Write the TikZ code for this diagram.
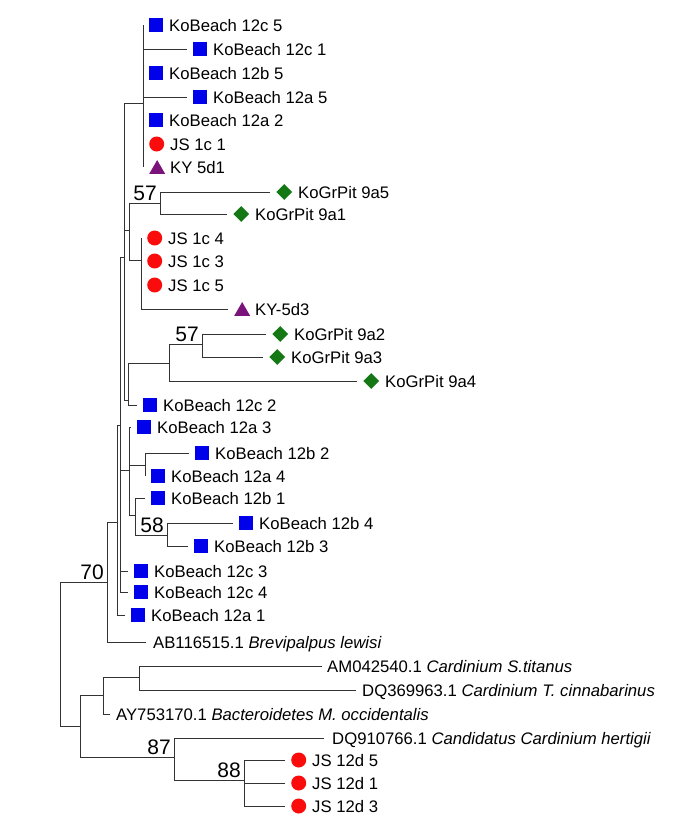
\documentclass[tikz,border=0pt]{standalone}
\usepackage{fontspec}
\setmainfont{Liberation Sans}
\usetikzlibrary{positioning, shapes.geometric}

\definecolor{sqblue}{RGB}{0,0,235}
\definecolor{dotred}{RGB}{250,12,12}
\definecolor{diagreen}{RGB}{20,120,20}
\definecolor{tripurple}{RGB}{122,20,122}

\tikzset{
  branch/.style={draw=black!80, line width=0.9pt},
  sq/.style={rectangle, fill=sqblue, minimum size=14pt, inner sep=0pt},
  dot/.style={circle, fill=dotred, minimum size=15pt, inner sep=0pt},
  dia/.style={diamond, fill=diagreen, minimum size=16pt, inner sep=0pt},
  tri/.style={regular polygon, regular polygon sides=3, fill=tripurple,
    minimum size=18.5pt, inner sep=0pt, xshift=2.6pt, yshift=-2.3pt},
  taxon/.style={inner sep=0pt, text height=12pt, text depth=0pt,
    font=\fontsize{16.7}{20}\selectfont},
  boot/.style={inner sep=0pt, anchor=south east, xshift=-3pt, yshift=2pt,
    font=\fontsize{21}{24}\selectfont}
}

\begin{document}
\begin{tikzpicture}[x=1pt, y=-1pt]
\useasboundingbox (0,0) rectangle (685,833);

% inner nodes
\coordinate (nR) at (60,582);
\coordinate (n70) at (107,582);
\coordinate (nA1) at (117,522);
\coordinate (nN4) at (120,425);
\coordinate (nN2) at (124,257);
\coordinate (nT) at (143,103);
\coordinate (nN1) at (129,230);
\coordinate (n57a) at (160,203);
\coordinate (nJ) at (141,260);
\coordinate (nN3) at (128,400);
\coordinate (nN8) at (169,363);
\coordinate (n57b) at (202,344);
\coordinate (nN5) at (129,470);
\coordinate (nN6) at (145,465);
\coordinate (nN7) at (135,515);
\coordinate (n58) at (167,535);
\coordinate (nB) at (80,726);
\coordinate (nC) at (103,695);
\coordinate (nE) at (139,677);
\coordinate (n87) at (174,757);
\coordinate (n88) at (244,780);

% bootstrap values
\node[boot] (b70) at (n70) {70};
\node[boot] (b57a) at (n57a) {57};
\node[boot] (b57b) at (n57b) {57};
\node[boot] (b58) at (n58) {58};
\node[boot] (b87) at (n87) {87};
\node[boot] (b88) at (n88) {88};

% leaves
\coordinate (kb12c5) at (143,25);
\node[sq, right=6pt of kb12c5] (m-kb12c5) {};
\node[taxon, right=26pt of kb12c5] (t-kb12c5) {KoBeach 12c 5};
\coordinate (kb12c1) at (187,49);
\node[sq, right=6pt of kb12c1] (m-kb12c1) {};
\node[taxon, right=26pt of kb12c1] (t-kb12c1) {KoBeach 12c 1};
\coordinate (kb12b5) at (143,73);
\node[sq, right=6pt of kb12b5] (m-kb12b5) {};
\node[taxon, right=26pt of kb12b5] (t-kb12b5) {KoBeach 12b 5};
\coordinate (kb12a5) at (187,97);
\node[sq, right=6pt of kb12a5] (m-kb12a5) {};
\node[taxon, right=26pt of kb12a5] (t-kb12a5) {KoBeach 12a 5};
\coordinate (kb12a2) at (143,120);
\node[sq, right=6pt of kb12a2] (m-kb12a2) {};
\node[taxon, right=26pt of kb12a2] (t-kb12a2) {KoBeach 12a 2};
\coordinate (js1c1) at (143,144);
\node[dot, right=6pt of js1c1] (m-js1c1) {};
\node[taxon, right=27pt of js1c1] (t-js1c1) {JS 1c 1};
\coordinate (ky5d1) at (143,167);
\node[tri, right=6pt of ky5d1] (m-ky5d1) {};
\node[taxon, right=27pt of ky5d1] (t-ky5d1) {KY 5d1};

\coordinate (kg9a5) at (270,192);
\node[dia, right=6pt of kg9a5] (m-kg9a5) {};
\node[taxon, right=28pt of kg9a5] (t-kg9a5) {KoGrPit 9a5};
\coordinate (kg9a1) at (227,214);
\node[dia, right=6pt of kg9a1] (m-kg9a1) {};
\node[taxon, right=28pt of kg9a1] (t-kg9a1) {KoGrPit 9a1};

\coordinate (js1c4) at (141,238);
\node[dot, right=6pt of js1c4] (m-js1c4) {};
\node[taxon, right=27pt of js1c4] (t-js1c4) {JS 1c 4};
\coordinate (js1c3) at (141,261);
\node[dot, right=6pt of js1c3] (m-js1c3) {};
\node[taxon, right=27pt of js1c3] (t-js1c3) {JS 1c 3};
\coordinate (js1c5) at (141,285);
\node[dot, right=6pt of js1c5] (m-js1c5) {};
\node[taxon, right=27pt of js1c5] (t-js1c5) {JS 1c 5};
\coordinate (ky5d3) at (228,309);
\node[tri, right=6pt of ky5d3] (m-ky5d3) {};
\node[taxon, right=27pt of ky5d3] (t-ky5d3) {KY-5d3};

\coordinate (kg9a2) at (266,334);
\node[dia, right=6pt of kg9a2] (m-kg9a2) {};
\node[taxon, right=28pt of kg9a2] (t-kg9a2) {KoGrPit 9a2};
\coordinate (kg9a3) at (263,357);
\node[dia, right=6pt of kg9a3] (m-kg9a3) {};
\node[taxon, right=28pt of kg9a3] (t-kg9a3) {KoGrPit 9a3};
\coordinate (kg9a4) at (357,381);
\node[dia, right=6pt of kg9a4] (m-kg9a4) {};
\node[taxon, right=28pt of kg9a4] (t-kg9a4) {KoGrPit 9a4};

\coordinate (kb12c2) at (137,405);
\node[sq, right=6pt of kb12c2] (m-kb12c2) {};
\node[taxon, right=26pt of kb12c2] (t-kb12c2) {KoBeach 12c 2};
\coordinate (kb12a3) at (131,427);
\node[sq, right=6pt of kb12a3] (m-kb12a3) {};
\node[taxon, right=26pt of kb12a3] (t-kb12a3) {KoBeach 12a 3};
\coordinate (kb12b2) at (189,453);
\node[sq, right=6pt of kb12b2] (m-kb12b2) {};
\node[taxon, right=26pt of kb12b2] (t-kb12b2) {KoBeach 12b 2};
\coordinate (kb12a4) at (145,476);
\node[sq, right=6pt of kb12a4] (m-kb12a4) {};
\node[taxon, right=26pt of kb12a4] (t-kb12a4) {KoBeach 12a 4};
\coordinate (kb12b1) at (145,498);
\node[sq, right=6pt of kb12b1] (m-kb12b1) {};
\node[taxon, right=26pt of kb12b1] (t-kb12b1) {KoBeach 12b 1};
\coordinate (kb12b4) at (233,523);
\node[sq, right=6pt of kb12b4] (m-kb12b4) {};
\node[taxon, right=26pt of kb12b4] (t-kb12b4) {KoBeach 12b 4};
\coordinate (kb12b3) at (188,546);
\node[sq, right=6pt of kb12b3] (m-kb12b3) {};
\node[taxon, right=26pt of kb12b3] (t-kb12b3) {KoBeach 12b 3};
\coordinate (kb12c3) at (128,571);
\node[sq, right=6pt of kb12c3] (m-kb12c3) {};
\node[taxon, right=26pt of kb12c3] (t-kb12c3) {KoBeach 12c 3};
\coordinate (kb12c4) at (128,592);
\node[sq, right=6pt of kb12c4] (m-kb12c4) {};
\node[taxon, right=26pt of kb12c4] (t-kb12c4) {KoBeach 12c 4};
\coordinate (kb12a1) at (125,615);
\node[sq, right=6pt of kb12a1] (m-kb12a1) {};
\node[taxon, right=26pt of kb12a1] (t-kb12a1) {KoBeach 12a 1};

\coordinate (ab116) at (146,642);
\node[taxon, right=7pt of ab116] (t-ab116) {AB116515.1 \textit{Brevipalpus lewisi}};
\coordinate (am042) at (322,666);
\node[taxon, right=5pt of am042] (t-am042) {AM042540.1 \textit{Cardinium S.titanus}};
\coordinate (dq369) at (356,690);
\node[taxon, right=6pt of dq369] (t-dq369) {DQ369963.1 \textit{Cardinium T. cinnabarinus}};
\coordinate (ay753) at (110,714);
\node[taxon, right=6pt of ay753] (t-ay753) {AY753170.1 \textit{Bacteroidetes M. occidentalis}};
\coordinate (dq910) at (324,738);
\node[taxon, right=8pt of dq910] (t-dq910) {DQ910766.1 \textit{Candidatus Cardinium hertigii}};

\coordinate (js12d5) at (285,760);
\node[dot, right=6pt of js12d5] (m-js12d5) {};
\node[taxon, right=27pt of js12d5] (t-js12d5) {JS 12d 5};
\coordinate (js12d1) at (285,783);
\node[dot, right=6pt of js12d1] (m-js12d1) {};
\node[taxon, right=27pt of js12d1] (t-js12d1) {JS 12d 1};
\coordinate (js12d3) at (285,806);
\node[dot, right=6pt of js12d3] (m-js12d3) {};
\node[taxon, right=27pt of js12d3] (t-js12d3) {JS 12d 3};

% branches
\draw[branch] (nR) |- (n70) (nR) |- (nB);
\draw[branch] (n70) |- (nA1) (n70) |- (ab116);
\draw[branch] (nA1) |- (nN4) (nA1) |- (kb12a1);
\draw[branch] (nN4) |- (nN2) (nN4) |- (nN5) (nN4) |- (kb12c3) (nN4) |- (kb12c4);
\draw[branch] (nN2) |- (nT) (nN2) |- (nN1) (nN2) |- (nN3);
\draw[branch] (nT) |- (kb12c5) (nT) |- (kb12c1) (nT) |- (kb12b5) (nT) |- (kb12a5)
  (nT) |- (kb12a2) (nT) |- (js1c1) (nT) |- (ky5d1);
\draw[branch] (nN1) |- (n57a) (nN1) |- (nJ);
\draw[branch] (n57a) |- (kg9a5) (n57a) |- (kg9a1);
\draw[branch] (nJ) |- (js1c4) (nJ) |- (js1c3) (nJ) |- (js1c5) (nJ) |- (ky5d3);
\draw[branch] (nN3) |- (nN8) (nN3) |- (kb12c2);
\draw[branch] (nN8) |- (n57b) (nN8) |- (kg9a4);
\draw[branch] (n57b) |- (kg9a2) (n57b) |- (kg9a3);
\draw[branch] (nN5) |- (kb12a3) (nN5) |- (nN6) (nN5) |- (nN7);
\draw[branch] (nN6) |- (kb12b2) (nN6) |- (kb12a4);
\draw[branch] (nN7) |- (kb12b1) (nN7) |- (n58);
\draw[branch] (n58) |- (kb12b4) (n58) |- (kb12b3);
\draw[branch] (nB) |- (nC) (nB) |- (n87);
\draw[branch] (nC) |- (nE) (nC) |- (ay753);
\draw[branch] (nE) |- (am042) (nE) |- (dq369);
\draw[branch] (n87) |- (dq910) (n87) |- (n88);
\draw[branch] (n88) |- (js12d5) (n88) |- (js12d1) (n88) |- (js12d3);
\end{tikzpicture}
\end{document}
